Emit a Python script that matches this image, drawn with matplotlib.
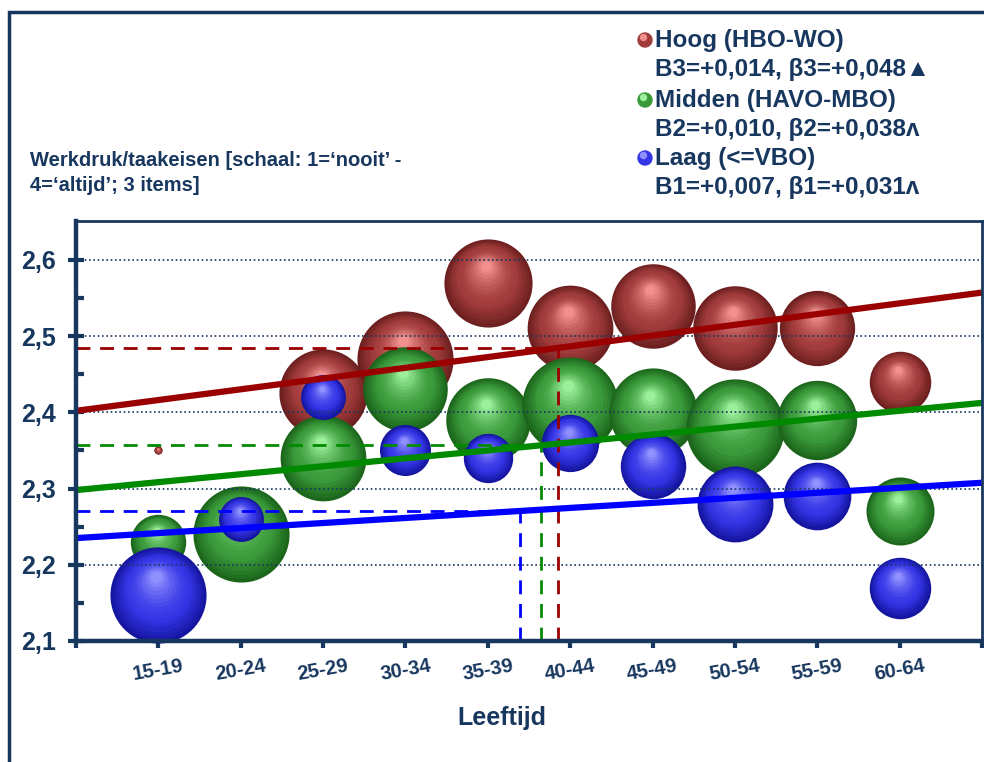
import numpy as np
import matplotlib
matplotlib.use("Agg")
import matplotlib.pyplot as plt
from matplotlib.transforms import ScaledTranslation
from matplotlib.colors import to_rgb
from matplotlib.patches import Rectangle, Circle

# data
age_groups = ["15-19", "20-24", "25-29", "30-34", "35-39",
              "40-44", "45-49", "50-54", "55-59", "60-64"]
hoog = [2.35, np.nan, 2.425, 2.47, 2.57, 2.51, 2.54, 2.51, 2.51, 2.44]
midden = [2.23, 2.24, 2.34, 2.43, 2.39, 2.41, 2.40, 2.38, 2.39, 2.27]
laag = [2.16, 2.26, 2.42, 2.35, 2.34, 2.36, 2.33, 2.28, 2.29, 2.17]
# relative group sizes (bubble area)
n_hoog = [1.6, np.nan, 185, 220, 185, 175, 170, 170, 135, 90]
n_midden = [73, 220, 175, 170, 170, 220, 185, 230, 150, 110]
n_laag = [220, 48, 48, 62, 58, 78, 102, 137, 109, 90]
# regression: intercept at axis start, slope per age group
reg_hoog = (2.402, 0.0141)
reg_midden = (2.298, 0.0104)
reg_laag = (2.235, 0.0066)
# crossing points of the overall mean with each line
mean_x = [5.85, 5.64, 5.39]

legend_labels = ["Hoog (HBO-WO)\nB3=+0,014, \u03b23=+0,048\u25b2",
                 "Midden (HAVO-MBO)\nB2=+0,010, \u03b22=+0,038\u028c",
                 "Laag (<=VBO)\nB1=+0,007, \u03b21=+0,031\u028c"]

NAVY = "#17375E"
plt.rcParams["font.family"] = ["Liberation Sans", "DejaVu Sans"]
plt.rcParams["font.weight"] = "bold"
NARROW = ["Liberation Sans Narrow", "Liberation Sans"]

shades = {
    "red": ("#6e2020", "#a23c3c", "#f29090"),
    "green": ("#1c661c", "#3a9a3a", "#9cf09c"),
    "blue": ("#1515a0", "#3535e6", "#9090ff"),
}
line_colors = {"red": "#9b0000", "green": "#008a00", "blue": "#0000ff"}


def mix(c1, c2, t):
    a, b = np.array(to_rgb(c1)), np.array(to_rgb(c2))
    return tuple(a + (b - a) * t)


def draw_sphere(ax, fig, x, y, r_px, key, z, layers=16):
    dark, mid, light = shades[key]
    for k in range(layers):
        t = k / (layers - 1)
        rr = r_px * (1 - 0.88 * t)
        dx = -0.05 * r_px * t
        dy = 0.38 * r_px * t
        if t < 0.35:
            col = mix(dark, mid, t / 0.35)
        else:
            col = mix(mid, light, ((t - 0.35) / 0.65) ** 1.6)
        off = ScaledTranslation(dx / 100, dy / 100, fig.dpi_scale_trans)
        d_pt = 2 * rr * 72 / 100
        ax.scatter([x], [y], s=d_pt ** 2, color=col, linewidths=0,
                   transform=ax.transData + off, zorder=z, clip_on=False)


fig = plt.figure(figsize=(9.84, 7.62), dpi=100)
ax = fig.add_axes([76 / 984, 1 - 641 / 762, (982 - 76) / 984, (641 - 221) / 762])
ax.set_xlim(0, 11)
ax.set_ylim(2.1, 2.651)

xs = np.arange(1, len(age_groups) + 1)
series = [("red", hoog, n_hoog, reg_hoog, 3),
          ("green", midden, n_midden, reg_midden, 4),
          ("blue", laag, n_laag, reg_laag, 5)]
for key, vals, ns, reg, z in series:
    for x, v, n in zip(xs, vals, ns):
        if np.isnan(v):
            continue
        draw_sphere(ax, fig, x, v, np.sqrt(n * 10.5), key, z)

# grid
for gy in [2.2, 2.3, 2.4, 2.5, 2.6]:
    ax.axhline(gy, color=NAVY, lw=1.2, ls=(0, (1, 1.6)), zorder=6)

# regression and mean lines
xl = np.array([0, 11])
for (key, vals, ns, reg, z), mx in zip(series, mean_x):
    a, b = reg
    col = line_colors[key]
    ax.plot(xl, a + b * xl, color=col, lw=4.5, zorder=8, solid_capstyle="butt")
    my = a + b * mx
    ax.plot([0, mx], [my, my], color=col, lw=2, ls=(0, (5, 3.5)), zorder=7)
    ax.plot([mx, mx], [2.1, my], color=col, lw=2, ls=(0, (5, 3.5)), zorder=7)

# axes styling
for side in ["left", "bottom"]:
    ax.spines[side].set_linewidth(3.2)
    ax.spines[side].set_color(NAVY)
for side in ["top", "right"]:
    ax.spines[side].set_linewidth(2)
    ax.spines[side].set_color(NAVY)
for s in ax.spines.values():
    s.set_zorder(10)

ax.set_yticks([2.1, 2.2, 2.3, 2.4, 2.5, 2.6])
ax.set_yticklabels(["2,1", "2,2", "2,3", "2,4", "2,5", "2,6"], fontweight="bold")
ax.set_yticks([2.15, 2.25, 2.35, 2.45, 2.55], minor=True)
ax.tick_params(axis="y", which="major", direction="inout", length=11, width=3,
               color=NAVY, labelsize=18, labelcolor=NAVY, pad=9)
ax.tick_params(axis="y", which="minor", direction="in", length=6, width=3, color=NAVY)

ax.set_xticks(np.arange(0, 12))
ax.set_xticklabels([""] + age_groups + [""], rotation=10, family=NARROW,
                   fontweight="bold")
ax.tick_params(axis="x", direction="out", length=5, width=3, color=NAVY,
               labelsize=14.5, labelcolor=NAVY, pad=6)
ax.set_xlabel("Leeftijd", fontsize=18, color=NAVY, family=NARROW,
              fontweight="bold")
ax.xaxis.set_label_coords((502 - 76) / 906, (641 - 718) / 420)
ax.xaxis.label.set_va("center")

fig.text(30 / 984, 1 - 173 / 762,
         "Werkdruk/taakeisen [schaal: 1=\u2018nooit\u2019 -\n4=\u2018altijd\u2019; 3 items]",
         fontsize=14.5, color=NAVY, va="center", ha="left", linespacing=1.35)

# legend
leg_y = [55, 115, 173]
for (key, *_), lab, ly in zip(series, legend_labels, leg_y):
    dark, mid, light = shades[key]
    cy = 762 - (ly - 15)
    fig.patches.append(Circle((645, cy), 7, transform=None, color=mid, zorder=5))
    fig.patches.append(Circle((643.5, cy + 2.5), 3, transform=None, color=light,
                              zorder=6))
    fig.text(655 / 984, 1 - ly / 762, lab, fontsize=17.5, color=NAVY,
             va="center", ha="left", linespacing=1.3)

# outer frame
fig.patches.append(Rectangle((9 / 984, -0.05), 1.2, 1 - 12 / 762 + 0.05,
                             transform=fig.transFigure, fill=False,
                             edgecolor=NAVY, lw=2.5))

fig.savefig("out.png", dpi=100)
